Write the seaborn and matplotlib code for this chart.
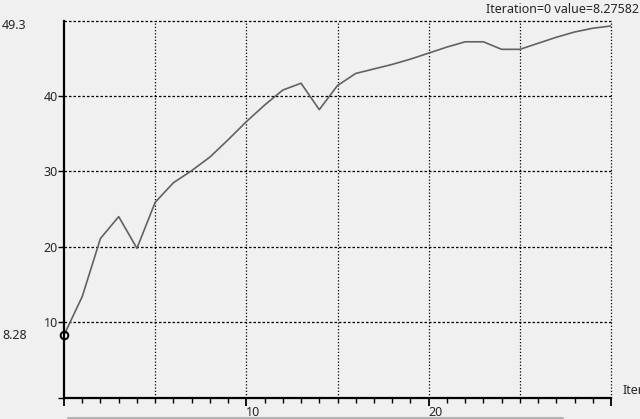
import matplotlib
matplotlib.use("Agg")
import matplotlib.pyplot as plt
from matplotlib.lines import Line2D
from matplotlib.ticker import MultipleLocator, FixedLocator, FixedFormatter
import seaborn as sns
import pandas as pd

iterations = list(range(31))
values = [8.27582, 13.4, 21.1, 24.0, 19.8, 25.9, 28.5, 30.1, 31.9, 34.2,
          36.6, 38.8, 40.8, 41.7, 38.2, 41.4, 43.0, 43.6, 44.2, 44.9,
          45.7, 46.5, 47.2, 47.2, 46.2, 46.2, 47.0, 47.8, 48.5, 49.0, 49.3]
x_major = [0, 10, 20, 30]
x_major_labels = ["", "10", "20", ""]
y_ticks = [0, 10, 20, 30, 40]
y_tick_labels = ["", "10", "20", "30", "40"]
header_text = "Iteration=0 value=8.27582"
x_name = "Iteration"

df = pd.DataFrame({"Iteration": iterations, "value": values})

sns.set_style("white")
plt.rcParams["font.family"] = ["Noto Sans", "DejaVu Sans"]
bg = "#f0f0f0"

fig = plt.figure(figsize=(6.4, 4.19), dpi=100, facecolor=bg)
ax = fig.add_axes([0.1, 0.0513, 0.8547, 0.8993])
ax.set_facecolor(bg)

sns.lineplot(data=df, x="Iteration", y="value", ax=ax, color="#626262", lw=1.2, zorder=3)
ax.plot([iterations[0]], [values[0]], marker="o", ms=5.5, mfc="none", mec="black",
        mew=1.4, ls="none", zorder=4, clip_on=False)

ax.set_xlim(0, 30)
ax.set_ylim(0, 50)
ax.set_xlabel("")
ax.set_ylabel("")

for s in ["top", "right"]:
    ax.spines[s].set_visible(False)
for s in ["left", "bottom"]:
    ax.spines[s].set_linewidth(1.6)
    ax.spines[s].set_color("black")
    ax.spines[s].set_zorder(5)

# grid
for gx in [5, 10, 15, 20, 25, 30]:
    ax.axvline(gx, color="black", lw=0.9, ls=(0, (1, 1.6)), zorder=1, clip_on=False)
for gy in [10, 20, 30, 40, 50]:
    ax.axhline(gy, color="black", lw=0.9, ls=(0, (2, 1.6)), zorder=1, clip_on=False)

ax.xaxis.set_major_locator(FixedLocator(x_major))
ax.xaxis.set_major_formatter(FixedFormatter(x_major_labels))
ax.xaxis.set_minor_locator(MultipleLocator(1))
ax.tick_params(axis="x", which="major", bottom=True, direction="out", length=6, width=1.3,
               color="black", labelsize=9, pad=0)
ax.tick_params(axis="x", which="minor", bottom=True, direction="out", length=3.5, width=1.0,
               color="black")
for lab in ax.get_xticklabels():
    lab.set_horizontalalignment("left")

ax.yaxis.set_major_locator(FixedLocator(y_ticks))
ax.yaxis.set_major_formatter(FixedFormatter(y_tick_labels))
ax.tick_params(axis="y", which="major", left=True, direction="out", length=4, width=1.0,
               color="black", labelsize=9, pad=0.5)

# min / max value labels at left
fig.text(0.003, ax.transData.transform((0, values[0]))[1] / fig.bbox.height, f"{values[0]:.2f}",
         ha="left", va="center", fontsize=9)
fig.text(0.003, ax.transData.transform((0, max(values)))[1] / fig.bbox.height, f"{max(values):.1f}",
         ha="left", va="center", fontsize=9)

fig.text(0.999, 0.978, header_text, ha="right", va="center", fontsize=9)
fig.text(0.973, 0.067, x_name, ha="left", va="center", fontsize=9)

fig.add_artist(Line2D([68 / 640, 563 / 640], [1.5 / 419, 1.5 / 419], transform=fig.transFigure,
                      color="#b4b4b4", lw=1.5))

fig.savefig("out.png", dpi=100, facecolor=bg)
